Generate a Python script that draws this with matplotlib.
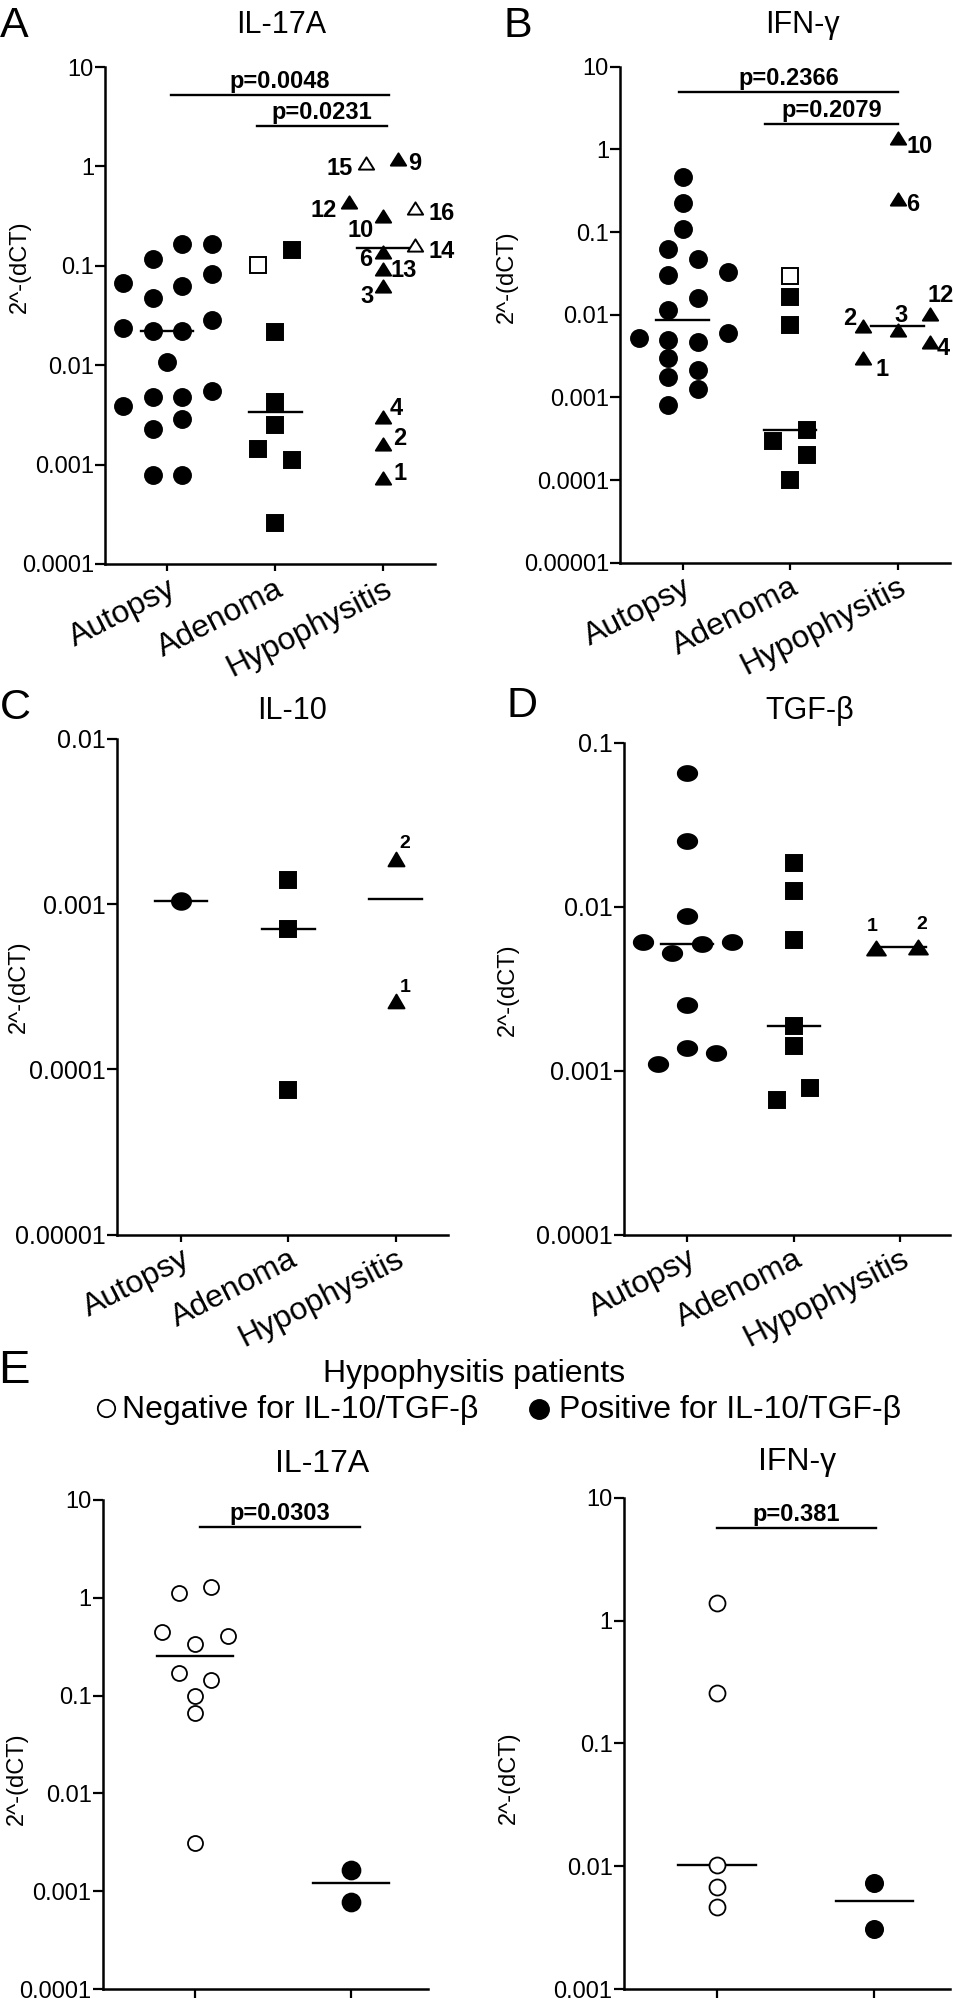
import numpy as np
import matplotlib
matplotlib.use("Agg")
import matplotlib.pyplot as plt
from matplotlib.path import Path
from matplotlib.lines import Line2D
from matplotlib.ticker import NullLocator

plt.rcParams['font.family'] = ['Liberation Sans', 'DejaVu Sans']

W, H = 954, 1998
groups = ['Autopsy', 'Adenoma', 'Hypophysitis']

# ---- A: IL-17A
a_aut = [0.167, 0.165, 0.117, 0.083, 0.067, 0.062, 0.047, 0.0286, 0.0237, 0.022,
         0.022, 0.0108, 0.0055, 0.0048, 0.0048, 0.0039, 0.0029, 0.0023, 0.00079, 0.00079]
a_ade = [0.143, 0.102, 0.0214, 0.0043, 0.0025, 0.00144, 0.0011, 0.00026]
a_ade_open = [False, True, False, False, False, False, False, False]
a_hyp = [1.08, 1.18, 0.436, 0.38, 0.32, 0.163, 0.139, 0.093, 0.063, 0.003, 0.0016, 0.00074]
a_hyp_open = [True, False, False, True, False, True, False, False, False, False, False, False]
a_hyp_ids = ['15', '9', '12', '16', '10', '14', '6', '13', '3', '4', '2', '1']
a_pvals = ['p=0.0048', 'p=0.0231']

# ---- B: IFN-gamma
b_aut = [0.46, 0.223, 0.109, 0.0625, 0.0469, 0.0303, 0.0327, 0.0161, 0.0114, 0.0052,
         0.00496, 0.00465, 0.006, 0.003, 0.00215, 0.00174, 0.00127, 0.00081]
b_ade = [0.0295, 0.0166, 0.00753, 0.000405, 0.0003, 0.000202, 0.0001]
b_ade_open = [True, False, False, False, False, False, False]
b_hyp = [1.36, 0.25, 0.0073, 0.0065, 0.0101, 0.003, 0.0047]
b_hyp_ids = ['10', '6', '2', '3', '12', '1', '4']
b_pvals = ['p=0.2366', 'p=0.2079']

# ---- C: IL-10
c_aut = [0.00104]
c_ade = [0.00141, 0.00071, 0.0000749]
c_hyp = [0.00188, 0.00026]
c_hyp_ids = ['2', '1']

# ---- D: TGF-beta
d_aut = [0.0652, 0.0252, 0.0088, 0.00614, 0.00525, 0.00594, 0.00614, 0.00252,
         0.00137, 0.00129, 0.0011]
d_ade = [0.0186, 0.01245, 0.00628, 0.00188, 0.00141, 0.00066, 0.000785]
d_hyp = [0.0056, 0.0057]
d_hyp_ids = ['1', '2']

# ---- E: hypophysitis patients split by IL-10/TGF-beta
e1_neg = [1.13, 1.28, 0.45, 0.41, 0.337, 0.17, 0.146, 0.0985, 0.066, 0.0031]
e1_pos = [0.00163, 0.00077]
e1_pval = 'p=0.0303'
e2_neg = [1.4, 0.259, 0.0103, 0.00675, 0.00465]
e2_pos = [0.0073, 0.00307]
e2_pval = 'p=0.381'

# ---- layout (jitter of points inside a column, in category units)
a_aut_dx = [.42, .14, -.13, .42, -.41, .14, -.13, .42, -.41, -.13,
            .14, 0, .42, -.13, .14, -.41, .14, -.13, -.13, .14]
a_ade_dx = [.16, -.16, 0, 0, 0, -.16, .16, 0]
a_hyp_dx = [-.157, .139, -.315, .296, 0, .296, 0, 0, 0, 0, 0, 0]
a_lbl = [('right', -13, -5), ('left', 10, -4), ('right', -12, -8), ('left', 13, -5),
         ('right', -9, -15), ('left', 13, -7), ('right', -11, -8), ('left', 7, -2),
         ('right', -9, -11), ('left', 6, 9), ('left', 10, 6), ('left', 10, 4)]
b_aut_dx = [0, 0, 0, -.14, .14, -.14, .42, .14, -.14, -.41,
            -.14, .14, .42, -.14, .14, -.14, .14, -.14]
b_ade_dx = [0, 0, 0, .155, -.16, .155, 0]
b_hyp_dx = [0, 0, -.32, 0, .3, -.32, .3]
b_lbl = [('left', 9, -8), ('left', 8, -5), ('right', -7, 7), ('center', 3, 15),
         ('left', -2, 19), ('left', 12, -12), ('left', 7, -7)]
c_lbl = [('left', 4, 15), ('left', 4, 13)]
d_aut_dx = [0, 0, 0, -.415, -.14, .14, .42, 0, 0, .275, -.275]
d_ade_dx = [0, 0, 0, 0, 0, -.156, .15]
d_hyp_dx = [-.225, .163]
d_lbl = [('center', -4, 22), ('center', 4, 22)]
e1_neg_dx = [-.103, .103, -.21, .21, 0, -.103, .103, 0, 0, 0]

MED_HW = 0.245


def tri(h):
    return Path([(-1, -h), (1, -h), (0, h), (-1, -h)], closed=True)


def ellipse(r):
    t = np.linspace(0, 2 * np.pi, 65)
    return Path(np.column_stack([np.cos(t), np.sin(t) / r]), closed=True)


def make_ax(fig, box, xlim, lo, hi, tsize):
    x0, x1, yt, yb = box
    ax = fig.add_axes([x0 / W, 1 - yb / H, (x1 - x0) / W, (yb - yt) / H])
    ax.set_yscale('log')
    ticks = [10.0 ** k for k in range(lo, hi + 1)]
    ax.set_ylim(ticks[0], ticks[-1])
    ax.set_yticks(ticks)
    ax.set_yticklabels([np.format_float_positional(t, trim='-') for t in ticks], fontsize=tsize)
    ax.yaxis.set_minor_locator(NullLocator())
    ax.set_xlim(*xlim)
    for s in ['top', 'right']:
        ax.spines[s].set_visible(False)
    for s in ['left', 'bottom']:
        ax.spines[s].set_linewidth(1.8)
    ax.tick_params(axis='y', length=7, width=1.6, pad=1)
    ax.tick_params(axis='x', length=5, width=1.6, pad=2)
    return ax


def cat_labels(ax, size=23):
    ax.set_xticks(range(len(groups)))
    ax.set_xticklabels(groups, rotation=27, ha='right', rotation_mode='anchor', fontsize=size)


def points(ax, xc, vals, dx, marker, ms, open_mask=None, mew=1.4):
    if dx is None:
        dx = [0] * len(vals)
    if open_mask is None:
        open_mask = [False] * len(vals)
    for v, d, o in zip(vals, dx, open_mask):
        ax.plot(xc + d, v, marker=marker, ms=ms, ls='none', mec='k', mew=mew,
                mfc='white' if o else 'k', zorder=3, clip_on=False)
    m = np.median(vals)
    ax.plot([xc - MED_HW, xc + MED_HW], [m, m], color='k', lw=1.7, zorder=2)


def ids(ax, xc, vals, dx, names, offs, size):
    if dx is None:
        dx = [0] * len(vals)
    for v, d, n, (ha, ox, oy) in zip(vals, dx, names, offs):
        ax.annotate(n, (xc + d, v), xytext=(ox, oy), textcoords='offset pixels',
                    ha=ha, va='center', fontsize=size, fontweight='bold')


def sig(ax, x0, x1, y, txt, size):
    ax.plot([x0, x1], [y, y], color='k', lw=1.7, clip_on=False)
    ax.annotate(txt, ((x0 + x1) / 2, y), xytext=(0, 7), textcoords='offset pixels',
                ha='center', va='baseline', fontsize=size, fontweight='bold')


def ftext(fig, x, y, s, **kw):
    fig.text(x / W, 1 - y / H, s, **kw)


fig = plt.figure(figsize=(W / 100, H / 100), dpi=100)

# ---- A
ax = make_ax(fig, (105, 435, 67, 564), (-0.574, 2.48), -4, 1, 17)
cat_labels(ax)
points(ax, 0, a_aut, a_aut_dx, 'o', 12.2)
points(ax, 1, a_ade, a_ade_dx, 's', 12, a_ade_open)
points(ax, 2, a_hyp, a_hyp_dx, tri(0.8), 11, a_hyp_open)
ids(ax, 2, a_hyp, a_hyp_dx, a_hyp_ids, a_lbl, 17)
sig(ax, 0.04, 2.05, 5.2, a_pvals[0], 17)
sig(ax, 0.83, 2.04, 2.55, a_pvals[1], 17)

# ---- B
ax = make_ax(fig, (620, 950, 66.7, 562.7), (-0.583, 2.487), -5, 1, 17)
cat_labels(ax)
points(ax, 0, b_aut, b_aut_dx, 'o', 12.2)
points(ax, 1, b_ade, b_ade_dx, 's', 12, b_ade_open)
points(ax, 2, b_hyp, b_hyp_dx, tri(0.8), 11)
ids(ax, 2, b_hyp, b_hyp_dx, b_hyp_ids, b_lbl, 17)
sig(ax, -0.03, 2.0, 4.9, b_pvals[0], 17)
sig(ax, 0.77, 2.0, 2.03, b_pvals[1], 17)

# ---- C
ax = make_ax(fig, (117.3, 448, 739, 1234.5), (-0.593, 2.487), -5, -2, 18)
cat_labels(ax)
points(ax, 0, c_aut, None, ellipse(1.15), 13.7)
points(ax, 1, c_ade, None, 's', 11.5)
points(ax, 2, c_hyp, None, tri(0.86), 11.5)
ids(ax, 2, c_hyp, None, c_hyp_ids, c_lbl, 14)

# ---- D
ax = make_ax(fig, (623.7, 950, 743, 1234.5), (-0.594, 2.466), -4, -1, 18)
cat_labels(ax)
points(ax, 0, d_aut, d_aut_dx, ellipse(1.3), 13.9)
points(ax, 1, d_ade, d_ade_dx, 's', 11.3)
points(ax, 2, d_hyp, d_hyp_dx, tri(0.75), 13.5)
ids(ax, 2, d_hyp, d_hyp_dx, d_hyp_ids, d_lbl, 14)

# ---- E left (IL-17A)
ax = make_ax(fig, (102.7, 427.7, 1500, 1989), (-0.593, 1.495), -4, 1, 17)
ax.set_xticks([0, 1])
ax.set_xticklabels([])
ax.tick_params(axis='x', length=10)
points(ax, 0, e1_neg, e1_neg_dx, 'o', 10.8, [True] * len(e1_neg), mew=1.3)
points(ax, 1, e1_pos, None, 'o', 12.8)
sig(ax, 0.03, 1.06, 5.33, e1_pval, 17)

# ---- E right (IFN-gamma)
ax = make_ax(fig, (623.7, 950, 1497.7, 1989), (-0.593, 1.48), -3, 1, 17)
ax.set_xticks([0, 1])
ax.set_xticklabels([])
ax.tick_params(axis='x', length=10)
points(ax, 0, e2_neg, None, 'o', 11.5, [True] * len(e2_neg), mew=1.3)
points(ax, 1, e2_pos, None, 'o', 12.3)
sig(ax, 0.0, 1.01, 5.68, e2_pval, 17)

# ---- titles, panel letters, y labels
for x, y, s in [(0, 37, 'A'), (504, 37, 'B'), (0, 719, 'C'), (507, 717, 'D')]:
    ftext(fig, x, y, s, fontsize=31, va='baseline', ha='left')
ftext(fig, -2, 1383, 'E', fontsize=34, va='baseline', ha='left')

for x, y, s, fs in [(281, 33, 'IL-17A', 22), (802, 33, 'IFN-γ', 22),
                    (292, 719, 'IL-10', 22), (810, 719, 'TGF-β', 22),
                    (322, 1472, 'IL-17A', 23), (797, 1470, 'IFN-γ', 23)]:
    ftext(fig, x, y, s, fontsize=fs, va='baseline', ha='center')

for x, y in [(20, 267), (507, 277), (19, 987), (508, 990), (17, 1779), (509, 1778)]:
    ftext(fig, x, y, '2^-(dCT)', fontsize=17, rotation=90, ha='center', va='center')

# ---- E header and legend
ftext(fig, 474, 1382, 'Hypophysitis patients', fontsize=23, ha='center', va='baseline')
fig.add_artist(Line2D([106 / W], [1 - 1408 / H], marker='o', ms=12.5, mfc='white',
                      mec='k', mew=1.3, ls='none', transform=fig.transFigure))
ftext(fig, 122, 1418, 'Negative for IL-10/TGF-β', fontsize=23, ha='left', va='baseline')
fig.add_artist(Line2D([539 / W], [1 - 1409 / H], marker='o', ms=14, mfc='k',
                      mec='k', ls='none', transform=fig.transFigure))
ftext(fig, 559, 1418, 'Positive for IL-10/TGF-β', fontsize=23, ha='left', va='baseline')

fig.savefig('out.png', dpi=100)
